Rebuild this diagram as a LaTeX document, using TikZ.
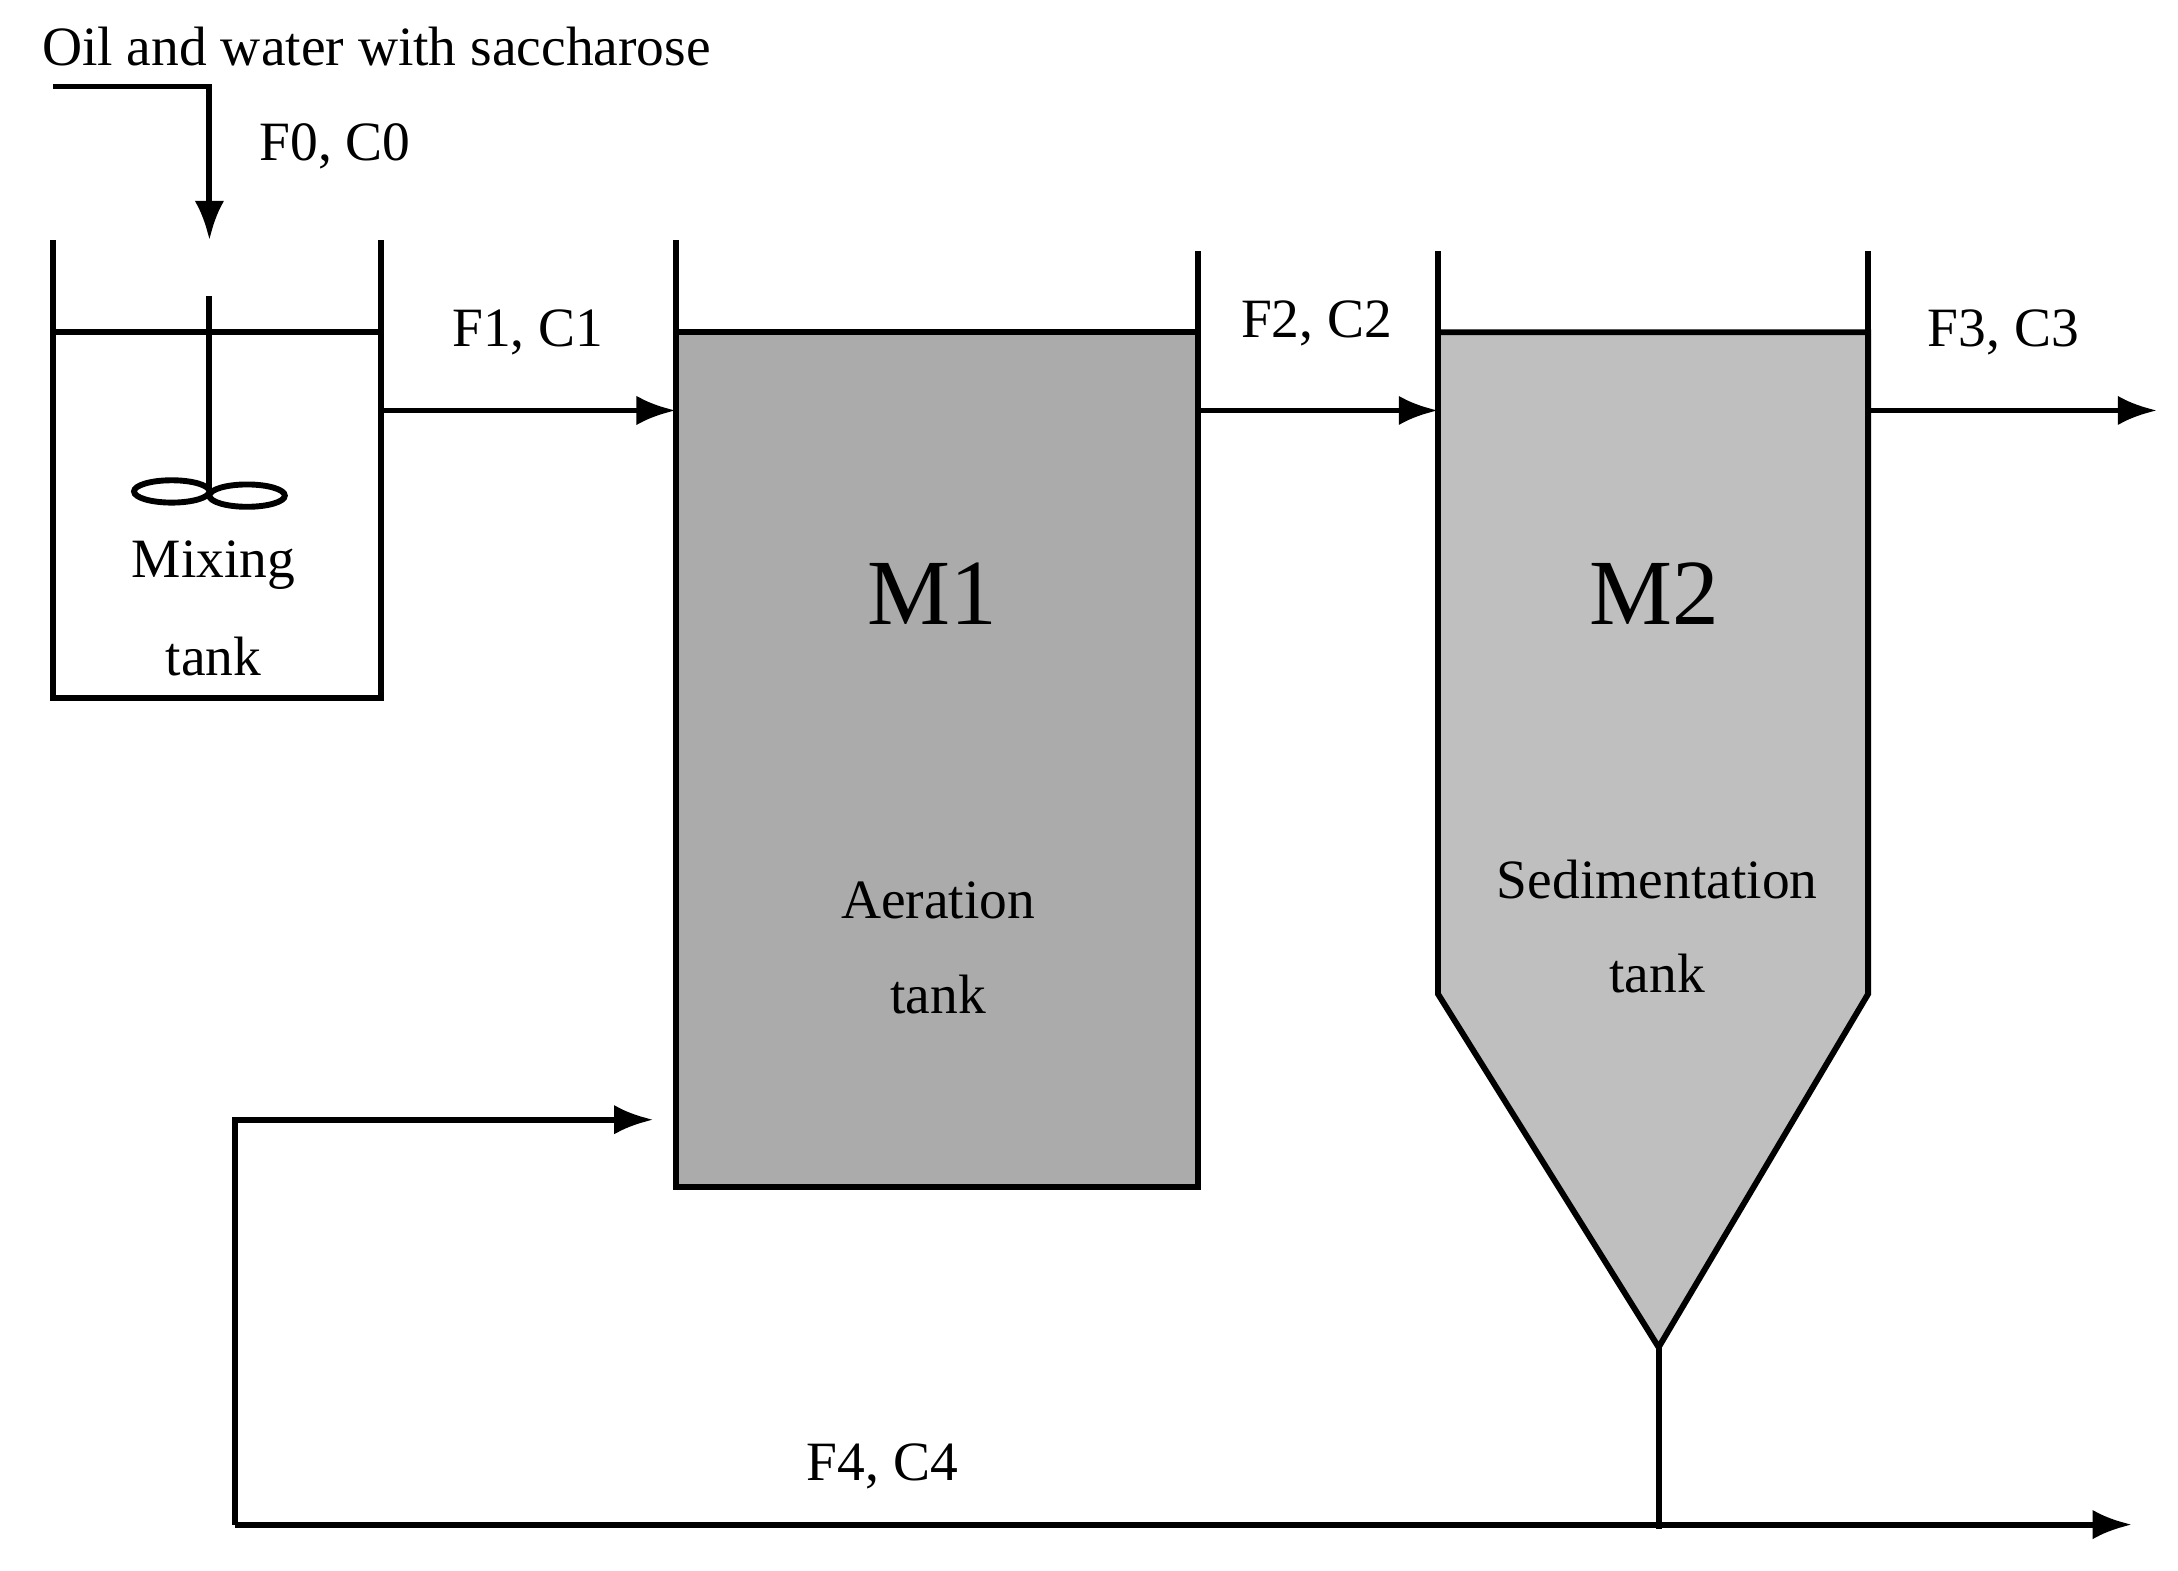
\documentclass[tikz,border=0pt]{standalone}
\usepackage{fontspec}
\setmainfont{Liberation Serif}
\usetikzlibrary{arrows,arrows.meta,positioning}
\begin{document}
\begin{tikzpicture}[x=0.01cm, y=-0.01cm]
\tikzset{
    tankwall/.style={draw=black, line width=1.2pt},
    flow/.style={-{Latex[length=8pt,width=6pt]}, line width=1.2pt},
    label/.style={font=\fontsize{11.3}{13}\selectfont, inner sep=1pt},
    bigname/.style={font=\fontsize{19}{22}\selectfont}
}
\useasboundingbox (0,0) rectangle (1560,1125);
% mixing tank
\draw[tankwall] (38,172) -- (38,500) -- (273,500) -- (273,172);
\draw[tankwall] (38,238) -- (273,238);
\draw[line width=1.2pt] (150,212) -- (150,352);
\draw[line width=1.2pt] (123,352) ellipse (27 and 8) (177,355) ellipse (27 and 8);
\node[label] (mix) at (153,405) {Mixing};
\node[label] (mixt) at (153,470) {tank};
\coordinate (feed) at (38,62);
\coordinate (mixtop) at (150,172);
\coordinate (mixout) at (273,294);
% aeration tank
\draw[tankwall, fill=black!33] (484,238) rectangle (858,850);
\draw[tankwall] (484,172) -- (484,238) (858,180) -- (858,238);
\coordinate (m1in) at (484,294);
\coordinate (m1out) at (858,294);
\coordinate (m1ret) at (468,802);
\node[bigname] (m1) at (668,425) {M1};
\node[label] (aer) at (672,645) {Aeration};
\node[label] (aert) at (672,712) {tank};
% sedimentation tank
\draw[tankwall, fill=black!25] (1030,238) -- (1338,238) -- (1338,712) -- (1188,965) -- (1030,712) -- cycle;
\draw[tankwall] (1030,180) -- (1030,238) (1338,180) -- (1338,238);
\coordinate (m2in) at (1030,294);
\coordinate (m2out) at (1338,294);
\coordinate (m2bot) at (1188,965);
\node[bigname] (m2) at (1185,425) {M2};
\node[label] (sed) at (1187,630) {Sedimentation};
\node[label] (sedt) at (1187,697) {tank};
% streams
\node[label, anchor=west] (title) at (26,33) {Oil and water with saccharose};
\draw[flow] (feed) -| (mixtop);
\node[label] (f0) at (240,105) {F0, C0};
\draw[flow] (mixout) -- (m1in);
\node[label] (f1) at (378,238) {F1, C1};
\draw[flow] (m1out) -- (m2in);
\node[label] (f2) at (943,232) {F2, C2};
\coordinate (out3) at (1545,294);
\draw[flow] (m2out) -- (out3);
\node[label] (f3) at (1435,238) {F3, C3};
\coordinate (botl) at (168,1092);
\coordinate (out4) at (1527,1092);
\draw[line width=1.2pt] (m2bot) -- (1188,1095);
\draw[flow] (botl) -- (out4);
\draw[flow] (botl) |- (m1ret);
\node[label] (f4) at (632,1050) {F4, C4};
\end{tikzpicture}
\end{document}
